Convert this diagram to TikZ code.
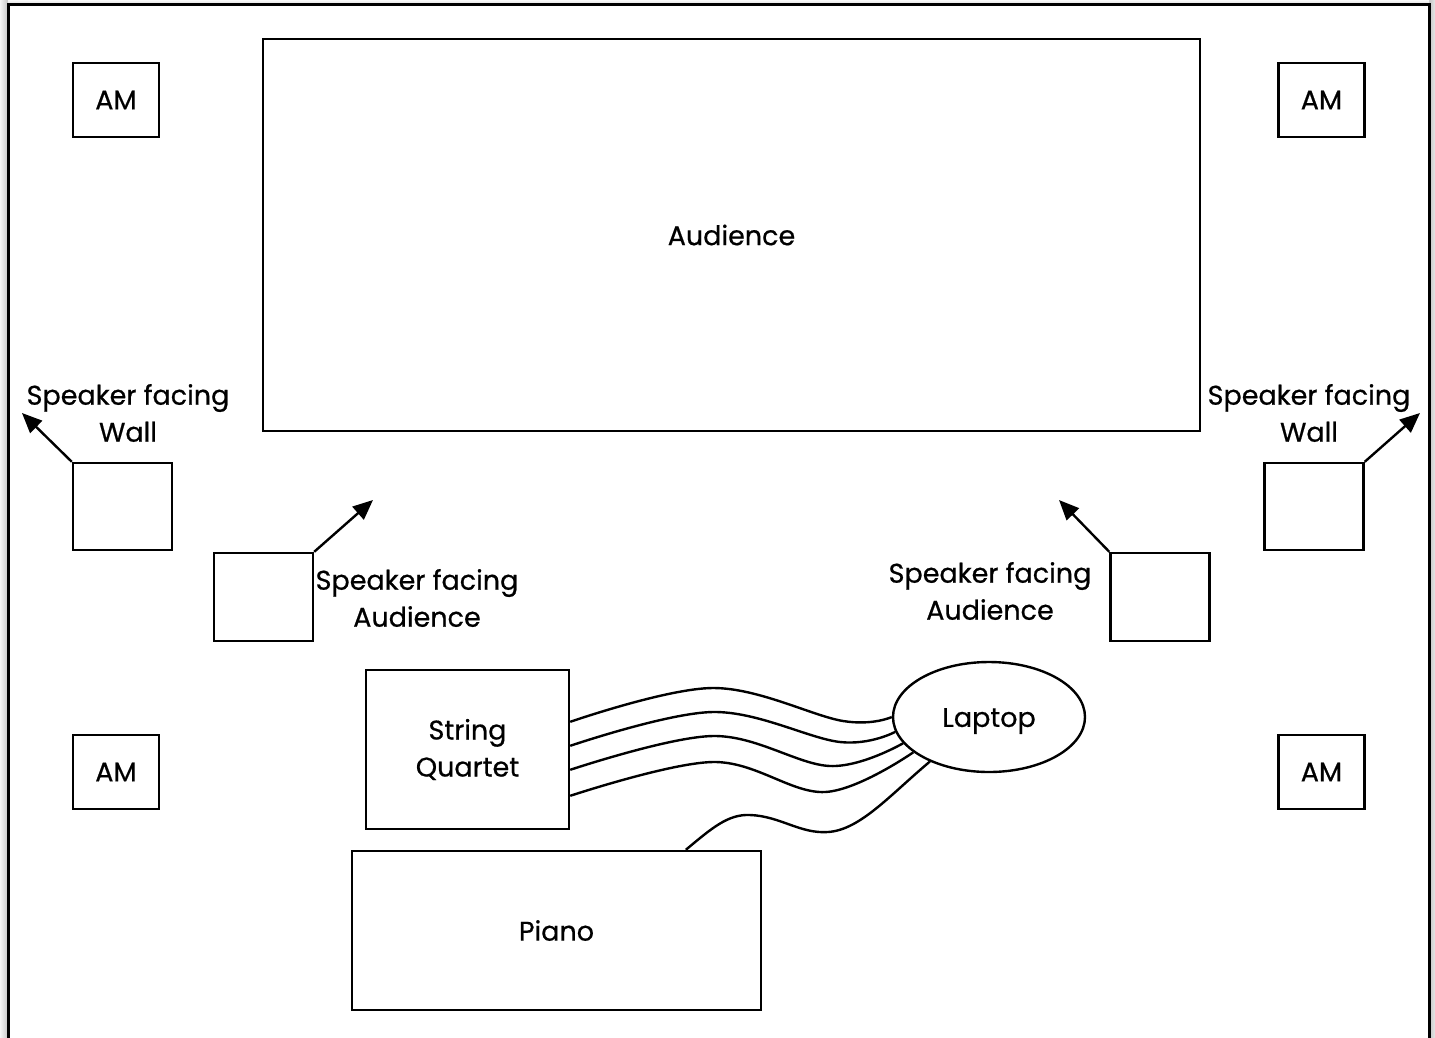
\documentclass[tikz,border=0pt]{standalone}
\usepackage{fontspec}
\setmainfont{Poppins}[FakeBold=0.6]
\usetikzlibrary{shapes.geometric,arrows.meta,calc}

\begin{document}
\begin{tikzpicture}[x=1pt,y=-1pt,
  every node/.style={font=\fontsize{27}{37}\selectfont, align=center},
  box/.style={draw, line width=2.4pt, inner sep=0pt},
  ambox/.style={box, minimum width=86pt, minimum height=74pt},
  spkbox/.style={box, minimum width=99pt, minimum height=88pt},
  lbl/.style={inner sep=0pt},
  wire/.style={line width=2.4pt},
  face/.style={line width=2.4pt, -{Triangle[length=20pt,width=17pt]}}]

\useasboundingbox (0,0) rectangle (1435,1037);

% page shadow around the frame
\shade[left color=gray!8, right color=gray!45] (0,0) rectangle (8,1037);
\shade[left color=gray!45, right color=gray!20] (1429,0) rectangle (1435,1037);
\shade[top color=gray!5, bottom color=gray!25] (8,0) rectangle (1429,4);

% room outline
\draw[line width=3pt, fill=white] (8,4) rectangle (1429,1060);

% acoustic monitors in the corners
\node[ambox] (amtl) at (116,100) {AM};
\node[ambox] (amtr) at (1321.5,100) {AM};
\node[ambox] (ambl) at (116,772) {AM};
\node[ambox] (ambr) at (1321.5,772) {AM};

% audience area
\node[box, minimum width=937pt, minimum height=392pt] (aud) at (731.5,235) {Audience};

% speakers facing the walls
\node[spkbox, minimum height=87pt] (spkwl) at (122.5,506.5) {};
\node[spkbox, minimum height=87pt] (spkwr) at (1314,506.5) {};
\coordinate (tipwl) at (22,413);
\coordinate (tipwr) at (1420,413);
\draw[face] (spkwl.north west) -- (tipwl);
\draw[face] (spkwr.north east) -- (tipwr);
\node[lbl] (lblwl) at (128,413) {Speaker facing\\Wall};
\node[lbl] (lblwr) at (1309,413) {Speaker facing\\Wall};

% speakers facing the audience
\node[spkbox] (spkal) at (263.5,597) {};
\node[spkbox] (spkar) at (1160,597) {};
\coordinate (tipal) at (373,500);
\coordinate (tipar) at (1059,500);
\draw[face] (spkal.north east) -- (tipal);
\draw[face] (spkar.north west) -- (tipar);
\node[lbl] (lblal) at (417,598) {Speaker facing\\Audience};
\node[lbl] (lblar) at (990,591) {Speaker facing\\Audience};

% performers and laptop
\node[box, minimum width=203pt, minimum height=159pt] (sq) at (467.5,749.5) {String\\Quartet};
\node[box, ellipse, minimum width=192pt, minimum height=110pt] (lap) at (989,717) {\raisebox{-4pt}[\height][\depth]{Laptop}};
\node[box, minimum width=409pt, minimum height=159pt] (piano) at (556.5,930.5) {Piano};

% cables into the laptop
\coordinate (w1) at ($(sq.north east)+(0,53)$);
\coordinate (w2) at ($(sq.north east)+(0,77)$);
\coordinate (w3) at ($(sq.north east)+(0,101)$);
\coordinate (w4) at ($(sq.north east)+(0,127)$);
\coordinate (w5) at ($(piano.north west)+(335,0)$);
\draw[wire] plot[smooth, tension=0.6] coordinates {(w1) (713,688) (843,721) (lap.180)};
\draw[wire] plot[smooth, tension=0.6] coordinates {(w2) (713,712) (840,742) (lap.189)};
\draw[wire] plot[smooth, tension=0.6] coordinates {(w3) (713,736) (830,766) (lap.197)};
\draw[wire] plot[smooth, tension=0.6] coordinates {(w4) (713,762) (825,792) (lap.205)};
\draw[wire] (w5) .. controls (712,828) and (728,814) .. (750,815)
                 .. controls (780,816) and (800,834) .. (828,832)
                 .. controls (860,830) and (890,795) .. (lap.217);
\end{tikzpicture}
\end{document}
